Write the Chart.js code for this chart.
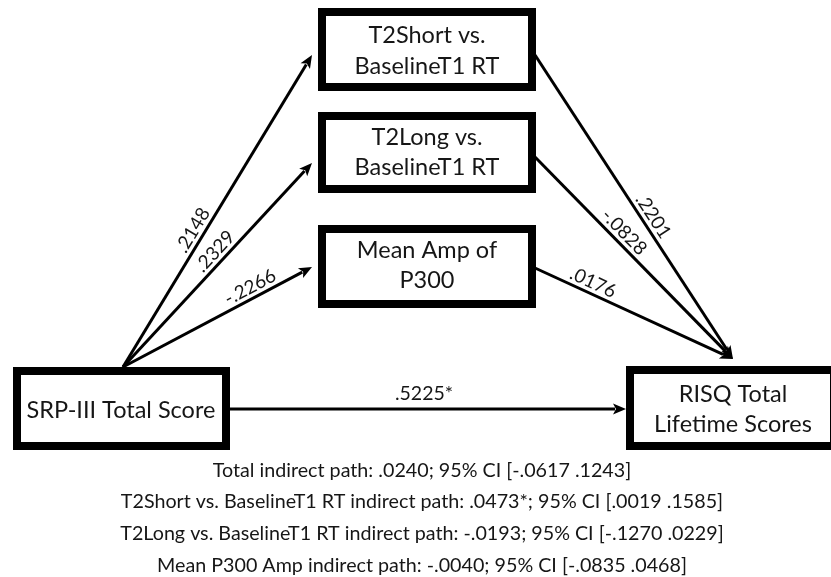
<!DOCTYPE html>
<html>
<head>
<meta charset="utf-8">
<script src="https://cdn.jsdelivr.net/npm/chart.js@4"></script>
<style>
  html, body { margin: 0; padding: 0; background: #fff; }
  #wrap { width: 831px; height: 577px; }
</style>
</head>
<body>
<div id="wrap"><canvas id="c" width="831" height="577"></canvas></div>
<script>
// Mediation model: SRP-III -> mediators -> RISQ
const predictor = ['SRP-III Total Score'];
const outcome = ['RISQ Total', 'Lifetime Scores'];
const mediators = [
  ['T2Short vs.', 'BaselineT1 RT'],
  ['T2Long vs.', 'BaselineT1 RT'],
  ['Mean Amp of', 'P300']
];
const aPaths = ['.2148', '.2329', '-.2266'];   // predictor -> mediator
const bPaths = ['.2201', '-.0828', '.0176'];   // mediator -> outcome
const directPath = ['.5225*'];
const indirectSummary = [
  'Total indirect path: .0240; 95% CI [-.0617 .1243]',
  'T2Short vs. BaselineT1 RT indirect path: .0473*; 95% CI [.0019 .1585]',
  'T2Long vs. BaselineT1 RT indirect path: -.0193; 95% CI [-.1270 .0229]',
  'Mean P300 Amp indirect path: -.0040; 95% CI [-.0835 .0468]'
];

// Diagram layout (in the 831 x 577 plotting space)
const layout = {
  predictorBox: { x0: 13, x1: 230, y0: 367, y1: 450, textX: 121, baselines: [418] },
  outcomeBox: { x0: 626, x1: 838, y0: 366, y1: 450, textX: 733, baselines: [402, 432] },
  mediatorBoxes: [
    { x0: 318, x1: 536, y0: 8, y1: 91, baselines: [43, 74] },
    { x0: 318, x1: 536, y0: 112, y1: 193, baselines: [145, 175] },
    { x0: 318, x1: 536, y0: 225, y1: 308, baselines: [258, 288] }
  ],
  aOrigin: { x: 123, y: 367 },
  aTips: [{ x: 312, y: 55 }, { x: 312, y: 163 }, { x: 312, y: 267 }],
  bStarts: [{ x: 535, y: 55 }, { x: 535, y: 157 }, { x: 535, y: 268 }],
  bTip: { x: 733, y: 359 },
  aLabelT: [0.42, 0.53, 0.70],
  bLabelT: [0.55, 0.41, 0.27],
  direct: { from: { x: 230, y: 409 }, to: { x: 626, y: 409 }, labelX: 424, labelBaseline: 400 },
  summaryX: 422,
  summaryBaselines: [477, 508, 540, 572]
};

const FONT = 'Lato, "Open Sans", sans-serif';
const INK = '#161616';
const HEAD_LEN = 13, HEAD_W = 11;

// Arrow shafts as line datasets, stopping where the arrowhead begins
function shaft(p, q) {
  const dx = q.x - p.x, dy = q.y - p.y, L = Math.hypot(dx, dy);
  return [{ x: p.x, y: p.y }, { x: q.x - dx / L * (HEAD_LEN - 2), y: q.y - dy / L * (HEAD_LEN - 2) }];
}
const lineDs = (pts) => ({
  type: 'line', data: pts, borderColor: '#000', borderWidth: 3,
  pointRadius: 0, fill: false, tension: 0, borderCapStyle: 'butt'
});
const datasets = [];
layout.aTips.forEach(t => datasets.push(lineDs(shaft(layout.aOrigin, t))));
layout.bStarts.forEach(s => datasets.push(lineDs(shaft(s, layout.bTip))));
datasets.push(lineDs(shaft(layout.direct.from, layout.direct.to)));

const diagram = {
  id: 'diagram',
  afterDatasetsDraw(chart) {
    const ctx = chart.ctx;
    const X = v => chart.scales.x.getPixelForValue(v);
    const Y = v => chart.scales.y.getPixelForValue(v);

    function box(b, lines, size, cx, baselines) {
      const bw = 8;
      const x0 = X(b.x0), x1 = X(b.x1), y0 = Y(b.y0), y1 = Y(b.y1);
      ctx.save();
      ctx.fillStyle = '#fff';
      ctx.fillRect(x0, y0, x1 - x0, y1 - y0);
      ctx.strokeStyle = '#000';
      ctx.lineWidth = bw;
      ctx.strokeRect(x0 + bw / 2, y0 + bw / 2, x1 - x0 - bw, y1 - y0 - bw);
      ctx.fillStyle = INK;
      ctx.font = size + 'px ' + FONT;
      ctx.textAlign = 'center';
      ctx.textBaseline = 'alphabetic';
      lines.forEach((s, i) => ctx.fillText(s, X(cx), Y(baselines[i])));
      ctx.restore();
    }

    function head(p, q) {
      const tx = X(q.x), ty = Y(q.y);
      const a = Math.atan2(Y(q.y) - Y(p.y), X(q.x) - X(p.x));
      ctx.save();
      ctx.translate(tx, ty);
      ctx.rotate(a);
      ctx.beginPath();
      ctx.moveTo(0, 0);
      ctx.lineTo(-HEAD_LEN, -HEAD_W / 2);
      ctx.lineTo(-HEAD_LEN + 3, 0);
      ctx.lineTo(-HEAD_LEN, HEAD_W / 2);
      ctx.closePath();
      ctx.fillStyle = '#000';
      ctx.fill();
      ctx.restore();
    }

    function pathLabel(p, q, t, text) {
      const px = X(p.x), py = Y(p.y), qx = X(q.x), qy = Y(q.y);
      const dx = qx - px, dy = qy - py, L = Math.hypot(dx, dy);
      const ux = dx / L, uy = dy / L;
      const a = Math.atan2(dy, dx);
      // normal pointing to the upper side of the line
      let nx = uy, ny = -ux;
      if (ny > 0) { nx = -nx; ny = -ny; }
      const cx = px + dx * t + nx * 11, cy = py + dy * t + ny * 11;
      ctx.save();
      ctx.translate(cx, cy);
      ctx.rotate(a);
      ctx.font = '19px ' + FONT;
      ctx.fillStyle = INK;
      ctx.textAlign = 'center';
      ctx.textBaseline = 'middle';
      ctx.fillText(text, 0, 0);
      ctx.restore();
    }

    // arrowheads
    layout.aTips.forEach(t => head(layout.aOrigin, t));
    layout.bStarts.forEach(s => head(s, layout.bTip));
    head(layout.direct.from, layout.direct.to);

    // boxes
    layout.mediatorBoxes.forEach((b, i) => box(b, mediators[i], 23.5, (b.x0 + b.x1) / 2, b.baselines));
    const pb = layout.predictorBox, ob = layout.outcomeBox;
    box(pb, predictor, 23.5, pb.textX, pb.baselines);
    box(ob, outcome, 23.5, ob.textX, ob.baselines);

    // path coefficients
    layout.aTips.forEach((t, i) => pathLabel(layout.aOrigin, t, layout.aLabelT[i], aPaths[i]));
    layout.bStarts.forEach((s, i) => pathLabel(s, layout.bTip, layout.bLabelT[i], bPaths[i]));
    ctx.save();
    ctx.font = '19.5px ' + FONT;
    ctx.fillStyle = INK;
    ctx.textAlign = 'center';
    ctx.textBaseline = 'alphabetic';
    ctx.fillText(directPath[0], X(layout.direct.labelX), Y(layout.direct.labelBaseline));

    // indirect effect summary
    ctx.font = '19.7px ' + FONT;
    indirectSummary.forEach((s, i) => ctx.fillText(s, X(layout.summaryX), Y(layout.summaryBaselines[i])));
    ctx.restore();
  }
};

new Chart(document.getElementById('c'), {
  type: 'scatter',
  data: { datasets },
  options: {
    responsive: false,
    animation: false,
    events: [],
    layout: { padding: 0 },
    plugins: { legend: { display: false }, tooltip: { enabled: false } },
    scales: {
      x: { type: 'linear', min: 0, max: 831, display: false },
      y: { type: 'linear', min: 0, max: 577, reverse: true, display: false }
    }
  },
  plugins: [diagram]
});
</script>
</body>
</html>
